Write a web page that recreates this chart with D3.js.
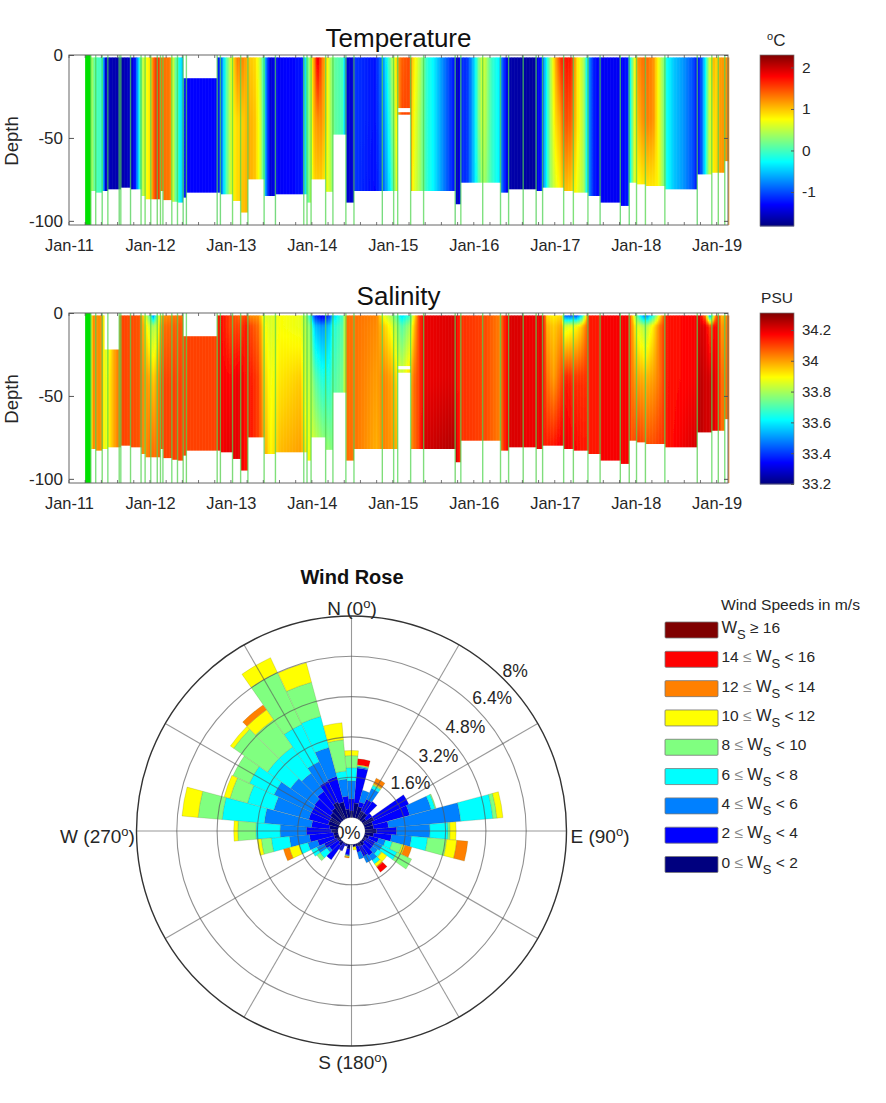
<!DOCTYPE html>
<html>
<head>
<meta charset="utf-8">
<script src="https://cdn.jsdelivr.net/npm/d3@7/dist/d3.min.js"></script>
<style>
html,body{margin:0;padding:0;background:#fff;}
svg{display:block;font-family:"Liberation Sans",Arial,sans-serif;}
</style>
</head>
<body>
<svg id="chart" width="886" height="1103"></svg>
<script>
// ---------- DATA ----------
const yearTicks = [2011,2012,2013,2014,2015,2016,2017,2018,2019];
const depthTicks = [0,-50,-100];
const tempTicks = [-1,0,1,2];
const salTicks = [33.2,33.4,33.6,33.8,34,34.2];
const tempLevels = [0,-40,-85];
const salLevels = [0,-8,-40,-85];

// station segments: [start year, bottom depth]
const stationRows = [[2011.20,-102],[2011.27,-82],[2011.33,-83],[2011.41,-82],[2011.48,-81],[2011.62,-81],[2011.64,-80],[2011.76,-81],[2011.89,-85],[2011.94,-87],[2012.01,-87],[2012.09,-87],[2012.13,-82],[2012.16,-87.5],[2012.27,-88.5],[2012.34,-89],[2012.41,-86],[2012.45,-83],[2012.83,-83],[2012.87,-84],[2013.02,-88],[2013.12,-95],[2013.21,-75],[2013.41,-85],[2013.55,-84],[2013.90,-84],[2013.94,-89],[2013.99,-75],[2014.17,-82.5],[2014.26,-48],[2014.42,-89],[2014.52,-82],[2014.87,-82],[2015.01,-82],[2015.06,-36],[2015.22,-82],[2015.38,-82],[2015.77,-90],[2015.84,-77],[2016.11,-77],[2016.33,-83],[2016.43,-81],[2016.61,-81],[2016.77,-82],[2016.85,-80],[2017.11,-82],[2017.23,-83],[2017.41,-85],[2017.56,-89],[2017.81,-91],[2017.92,-77],[2018.01,-78],[2018.12,-79],[2018.36,-81],[2018.76,-72],[2018.94,-71],[2019.02,-71],[2019.10,-64]];
const stationEnd = 2019.14;

// empty depth windows: [start, end, upper depth, lower depth]
const tempGaps = [[2012.41,2012.83,0,-14],[2015.06,2015.22,-32,-34.5]];
const salGaps = [[2012.41,2012.83,0,-14],[2011.44,2011.62,0,-22],[2015.06,2015.22,-32,-34]];

// temperature profiles: [year, surface, -40 m, -85 m]
const tempProfiles = [[2011.20,.24,.24,.24],[2011.27,.5,.5,.5],[2011.33,0,0,0],[2011.39,0,0,0],[2011.42,-.3,-.3,-.3],[2011.45,-1.5,-1.5,-1.5],[2011.51,-1.6,-1.6,-1.6],[2011.64,-1.65,-1.65,-1.65],[2011.78,-1.5,-1.5,-1.5],[2011.82,-1.2,-1.2,-1.2],[2011.85,-.6,-.6,-.6],[2011.88,0,0,0],[2011.92,.6,.6,.6],[2012.01,.9,.9,.9],[2012.05,1.4,1.4,1.4],[2012.09,1.7,1.7,1.7],[2012.13,1.35,1.35,1.35],[2012.25,1.3,1.3,1.3],[2012.27,.8,.8,.8],[2012.31,.2,.2,.2],[2012.36,-.2,-.2,-.2],[2012.40,-.5,-.5,-.5],[2012.43,-1.3,-1.3,-1.3],[2012.83,-1.3,-1.3,-1.3],[2012.87,-1.1,-1.1,-1.1],[2012.90,-.6,-.6,-.6],[2012.94,0,0,0],[2012.99,.5,.5,.5],[2013.03,.9,.8,.8],[2013.08,1.3,.9,.9],[2013.15,1.25,.95,1],[2013.22,1,1.1,1.1],[2013.30,.9,1,1],[2013.36,.5,.6,.6],[2013.40,0,.1,.1],[2013.44,-.9,-.9,-.9],[2013.49,-1.5,-1.5,-1.5],[2013.55,-1.35,-1.35,-1.35],[2013.88,-1.25,-1.25,-1.25],[2013.91,-.5,-.5,-.5],[2013.95,.1,.1,.1],[2013.99,.7,.6,.5],[2014.03,1.2,1.1,.9],[2014.07,2,1.2,.9],[2014.12,1.4,1.2,.9],[2014.18,.9,.9,.7],[2014.23,.4,.4,.5],[2014.29,.1,.1,.1],[2014.39,0,0,0],[2014.43,-1.5,-1.5,-1.5],[2014.51,-1.5,-1.5,-1.5],[2014.54,-1.1,-1.1,-1.1],[2014.78,-1.25,-1.25,-1.3],[2014.87,-.8,-.9,-1],[2014.93,-.2,-.4,-.6],[2014.98,.3,.1,-.2],[2015.03,.8,.6,.3],[2015.07,1.2,1.1,1.1],[2015.11,1.4,1.5,1.5],[2015.21,1.5,1.5,1.5],[2015.25,.9,.8,.7],[2015.33,.5,.4,.4],[2015.42,-.1,-.1,-.1],[2015.50,-.3,-.3,-.3],[2015.63,-.8,-.8,-.8],[2015.73,-1.15,-1.15,-1.15],[2015.77,-1.3,-1.3,-1.3],[2015.80,-1.65,-1.65,-1.65],[2015.84,-1.15,-1.15,-1.15],[2015.92,-1.1,-1.1,-1.1],[2016.00,-.5,-.5,-.5],[2016.06,.2,.2,0],[2016.11,.65,.6,.4],[2016.15,.45,.4,.3],[2016.22,-.05,-.05,-.05],[2016.31,-.3,-.3,-.3],[2016.35,-.9,-.9,-.9],[2016.41,-1.4,-1.4,-1.4],[2016.45,-1.65,-1.65,-1.65],[2016.76,-1.7,-1.7,-1.7],[2016.79,-1.4,-1.4,-1.4],[2016.84,-1.2,-1.2,-1.2],[2016.88,-.5,-.5,-.5],[2016.94,.3,.3,.3],[2017.01,1.1,.9,.6],[2017.07,1.6,1.1,.8],[2017.11,1.75,1.5,1],[2017.21,1.7,1.4,.9],[2017.27,.9,.9,.7],[2017.36,.4,.4,.4],[2017.42,-.7,-.7,-.7],[2017.48,-1.2,-1.2,-1.2],[2017.56,-1.35,-1.35,-1.35],[2017.81,-1.35,-1.35,-1.35],[2017.91,-1.2,-1.2,-1.2],[2017.93,-.3,-.3,-.3],[2017.98,.6,.6,.6],[2018.02,1.2,1,.7],[2018.12,1.4,1.3,.8],[2018.22,1.2,1.2,.8],[2018.27,.8,.8,.8],[2018.34,.3,.3,.3],[2018.38,-.2,-.2,-.2],[2018.47,-.5,-.5,-.5],[2018.59,-.7,-.7,-.7],[2018.71,-1,-1,-1],[2018.76,-1.3,-1.3,-1.3],[2018.81,-1,-1,-1],[2018.86,-.3,-.3,-.3],[2018.90,.4,.4,.4],[2018.96,1.1,.9,.8],[2019.00,.9,.9,.9],[2019.04,1.15,1.15,1.15],[2019.15,1.2,1.2,1.2]];

// salinity profiles: [year, surface, -8 m, -40 m, -85 m]
const salProfiles = [[2011.20,33.76,33.76,33.76,33.76],[2011.27,33.76,33.76,33.76,33.76],[2011.29,34.02,34.02,34.02,34.02],[2011.41,34.02,34.02,34.02,34.02],[2011.44,33.85,33.85,33.85,33.85],[2011.49,33.85,33.85,33.9,33.9],[2011.55,33.98,33.98,33.98,33.98],[2011.62,34.05,34.05,34.05,34.05],[2011.66,34.1,34.1,34.1,34.1],[2011.88,34.08,34.08,34.08,34.08],[2011.93,33.9,33.95,34,34],[2011.99,33.7,33.85,34,34.05],[2012.04,33.4,33.8,33.95,34.05],[2012.09,33.75,33.85,34,34.05],[2012.15,34,34.05,34.1,34.1],[2012.38,34.05,34.08,34.1,34.1],[2012.45,34.1,34.1,34.1,34.1],[2012.83,34.1,34.1,34.1,34.1],[2012.86,34.18,34.18,34.18,34.18],[2012.99,34.1,34.1,34.17,34.2],[2013.12,34.05,34.1,34.2,34.2],[2013.18,34.1,34.15,34.15,34.15],[2013.24,34,34.1,34.15,34.15],[2013.34,34,34.05,34.1,34.1],[2013.41,33.85,33.9,33.95,34],[2013.49,33.85,33.85,33.88,33.9],[2013.61,33.89,33.89,33.92,33.97],[2013.86,33.87,33.87,33.95,34],[2013.92,33.8,33.82,33.85,33.92],[2013.98,33.6,33.75,33.82,33.87],[2014.04,33.35,33.55,33.72,33.85],[2014.13,33.25,33.5,33.65,33.8],[2014.21,33.35,33.55,33.65,33.78],[2014.27,33.55,33.65,33.7,33.75],[2014.39,33.7,33.72,33.75,33.75],[2014.43,34.05,34.05,34.05,34.05],[2014.52,34.05,34.05,34.05,34.05],[2014.80,34.03,34.02,34,33.98],[2014.89,33.85,33.95,34.03,34.03],[2015.01,33.75,33.85,33.98,34],[2015.11,33.55,33.7,33.85,33.95],[2015.21,33.65,33.8,33.95,34],[2015.26,33.88,33.95,34.05,34.05],[2015.32,34.1,34.1,34.1,34.1],[2015.38,34.19,34.19,34.19,34.22],[2015.77,34.21,34.21,34.21,34.26],[2015.83,34.12,34.12,34.12,34.12],[2016.12,34.1,34.1,34.1,34.1],[2016.33,34.03,34.03,34.03,34.03],[2016.37,34.12,34.12,34.12,34.12],[2016.45,34.21,34.21,34.21,34.21],[2016.59,34.21,34.21,34.21,34.21],[2016.63,34.19,34.19,34.19,34.19],[2016.79,34.19,34.19,34.19,34.19],[2016.84,34.2,34.2,34.2,34.2],[2016.87,34.15,34.15,34.15,34.15],[2016.90,33.92,33.98,34.05,34.15],[2016.99,33.9,33.95,34,34.17],[2017.09,33.92,34,34.1,34.2],[2017.12,33.35,33.85,34.15,34.2],[2017.27,33.3,33.9,34.12,34.17],[2017.33,33.5,33.95,34.12,34.15],[2017.39,33.9,34.05,34.12,34.15],[2017.42,34.15,34.15,34.15,34.15],[2017.56,34.15,34.15,34.15,34.15],[2017.57,34.18,34.18,34.18,34.18],[2017.91,34.18,34.18,34.18,34.18],[2017.95,34,34.02,34.04,34.08],[2018.01,33.7,33.88,34,34.13],[2018.12,33.35,33.8,33.98,34.1],[2018.22,33.6,33.92,34,34.1],[2018.30,33.9,34.05,34.05,34.12],[2018.36,34.12,34.12,34.12,34.12],[2018.38,34.15,34.15,34.15,34.15],[2018.75,34.18,34.18,34.18,34.22],[2018.79,34.2,34.22,34.25,34.25],[2018.86,34,34.2,34.22,34.22],[2018.92,33.35,34.1,34.22,34.22],[2018.98,33.95,34.18,34.2,34.2],[2019.02,34.15,34.15,34.15,34.15],[2019.06,33.95,34,34.05,34.05],[2019.15,34.05,34.05,34.05,34.05]];

// wind rose: percent of time per speed class, direction 0,10,...,350 degrees
const directions = d3.range(0,360,10);
const ws0to2 = [.26,.58,.46,.34,.34,.18,.46,.34,.34,.46,.34,.18,.10,.10,.18,.14,.10,.10,.02,.18,.06,.02,.18,.10,.10,.18,.18,.26,.34,.42,.42,.50,.58,.74,.66,.34];
const ws2to4 = [.48,1.4,.2,.52,.56,.28,1.52,1.52,.6,.8,.72,.4,.4,.4,.48,.44,.24,0,0,.24,.04,.32,.68,.44,.56,.68,.96,1,.72,.8,.8,.76,.8,.92,1.04,.52];
const ws4to6 = [.72,.04,.48,.48,0,0,0,.88,2.88,1.32,.8,.28,.32,.24,.24,.28,.28,0,0,.04,0,0,0,.12,.32,.4,.8,1.04,1.88,1.44,1.64,1.16,.88,.84,1.2,.68];
const ws6to8 = [.52,.04,0,.12,0,0,0,.16,1.28,.72,.64,.28,.64,.16,.16,0,0,0,0,0,0,0,0,.32,.24,.36,.72,.96,1.68,1.08,1.08,1.12,1.28,1.64,1.28,.32];
const ws8to10 = [.48,0,0,.04,0,0,0,.04,.16,.08,.76,.4,.64,.04,0,0,0,0,0,0,0,0,0,.16,0,0,.4,.72,.96,.72,.72,1.64,1.32,2.28,1.4,1.24];
const ws10to12 = [.2,.04,0,.04,0,0,0,0,.24,.24,.4,.12,0,.24,.12,0,0,.12,0,.04,0,0,0,0,0,.4,.16,.16,.64,.24,0,.16,.48,.64,.8,.68];
const ws12to14 = [0,0,0,.24,0,0,0,0,0,0,.44,.28,0,0,.04,0,0,0,0,.04,0,0,0,0,0,.24,0,0,0,0,0,0,.24,0,0,0];
const ws14to16 = [0,.24,0,0,0,0,0,0,0,0,0,0,0,0,.24,0,0,0,0,0,0,0,0,0,0,0,0,0,0,0,0,0,0,0,0,0];
const ws16up = directions.map(() => 0);
const speedSeries = [ws0to2,ws2to4,ws4to6,ws6to8,ws8to10,ws10to12,ws12to14,ws14to16,ws16up];
const speedColors = ["#00007f","#0000ff","#0080ff","#00ffff","#80ff80","#ffff00","#ff8000","#ff0000","#7f0000"];
// legend rows: [lower bound, upper part] around "W_S"
const speedLabels = [["0","< 2"],["2","< 4"],["4","< 6"],["6","< 8"],["8","< 10"],["10","< 12"],["12","< 14"],["14","< 16"],["","≥ 16"]];
const radialTicks = [1.6,3.2,4.8,6.4,8];
const compass = [["N (0","o",")",0],["E (90","o",")",90],["S (180","o",")",180],["W (270","o",")",270]];

// ---------- HELPERS ----------
const svg = d3.select("#chart");
const defs = svg.append("defs");
defs.append("filter").attr("id","soft").attr("x","-2%").attr("y","-2%").attr("width","104%").attr("height","104%")
  .append("feGaussianBlur").attr("stdDeviation",0.45);
const clamp01 = v => Math.max(0,Math.min(1,v));
const jet = t => {
  const r = clamp01(1.5-Math.abs(4*t-3)), g = clamp01(1.5-Math.abs(4*t-2)), b = clamp01(1.5-Math.abs(4*t-1));
  return d3.rgb(255*r,255*g,255*b).formatHex();
};
const inkAxis = "#666", inkText = "#262626";
const stationSegs = stationRows.map((r,i)=>({start:r[0],end:i+1<stationRows.length?stationRows[i+1][0]:stationEnd,bottom:r[1]}));
const x = d3.scaleLinear().domain([2011,2019.14]).range([69,728]);

function profileAt(rows,t){
  const i = Math.max(1,Math.min(rows.length-1,d3.bisector(r=>r[0]).left(rows,t)));
  const a = rows[i-1], b = rows[i];
  const f = clamp01((t-a[0])/(b[0]-a[0]));
  return a.slice(1).map((v,k)=>v+(b[k+1]-v)*f);
}
function valueAtDepth(levels,vals,d){
  if(d>=levels[0]) return vals[0];
  for(let k=1;k<levels.length;k++){
    if(d>=levels[k]){ const f=(levels[k-1]-d)/(levels[k-1]-levels[k]); return vals[k-1]+(vals[k]-vals[k-1])*f; }
  }
  return vals[vals.length-1];
}

function drawPanel(cfg){
  const y = d3.scaleLinear().domain([0,-102.5]).range([cfg.top,cfg.top+170]);
  const color = d3.scaleSequential(jet).domain(cfg.domain);
  const gid = cfg.id;
  const dataTop = -1.5, dataBottom = -102.5;
  const stopDepths = d3.range(dataTop,-14,-1.5).concat(d3.range(-14,dataBottom,-6));
  const g = svg.append("g").attr("filter","url(#soft)");
  const first = stationSegs[0].start;
  const strips = d3.range(x(first),x(stationEnd),1.5);
  strips.forEach((px,i)=>{
    const t = x.invert(px+0.75);
    const vals = profileAt(cfg.rows,t);
    const grad = defs.append("linearGradient").attr("id",gid+i).attr("gradientUnits","userSpaceOnUse")
      .attr("x1",0).attr("x2",0).attr("y1",y(dataTop)).attr("y2",y(dataBottom));
    stopDepths.forEach(d=>{
      grad.append("stop").attr("offset",(d-dataTop)/(dataBottom-dataTop))
        .attr("stop-color",color(valueAtDepth(cfg.levels,vals,d)));
    });
  });
  g.selectAll("rect.strip").data(strips).join("rect").attr("class","strip")
    .attr("x",d=>d).attr("width",2.1)
    .attr("y",y(dataTop)).attr("height",y(dataBottom)-y(dataTop))
    .attr("fill",(d,i)=>`url(#${gid}${i})`);
  // below the bottom of each station
  g.selectAll("rect.floor").data(stationSegs).join("rect").attr("class","floor")
    .attr("x",d=>x(d.start)).attr("width",d=>x(d.end)-x(d.start)+0.3)
    .attr("y",d=>y(d.bottom)).attr("height",d=>Math.max(0,y(dataBottom)-y(d.bottom))+1).attr("fill","#fff");
  // missing windows
  g.selectAll("rect.gap").data(cfg.gaps).join("rect").attr("class","gap")
    .attr("x",d=>x(d[0])).attr("width",d=>x(d[1])-x(d[0]))
    .attr("y",d=>y(d[2])).attr("height",d=>y(d[3])-y(d[2])).attr("fill","#fff");
  // first station band
  g.append("rect").attr("x",x(stationSegs[0].start)).attr("width",x(stationSegs[0].end)-x(stationSegs[0].start))
    .attr("y",y(0)).attr("height",y(-102.5)-y(0)).attr("fill","#00e000");
  // station lines
  g.selectAll("line.st").data(stationSegs.slice(1)).join("line").attr("class","st")
    .attr("x1",d=>x(d.start)).attr("x2",d=>x(d.start))
    .attr("y1",y(0)).attr("y2",y(-102.5))
    .attr("stroke","#4fd64f").attr("stroke-width",1.4).attr("stroke-opacity",.72);
  // axes
  const axG = svg.append("g");
  axG.append("rect").attr("x",69).attr("y",cfg.top).attr("width",659).attr("height",170)
    .attr("fill","none").attr("stroke",inkAxis).attr("stroke-width",1);
  const minor = d3.range(2011,2019.14,0.2);
  [[cfg.top+170,-3],[cfg.top,3]].forEach(([yy,s])=>{
    axG.append("g").selectAll("line").data(minor).join("line")
      .attr("x1",x).attr("x2",x).attr("y1",yy).attr("y2",yy+s)
      .attr("stroke","#555").attr("stroke-width",.8);
  });
  const xa = d3.axisBottom(x).tickValues(yearTicks).tickSize(0).tickPadding(14)
    .tickFormat(v=>"Jan-"+String(v).slice(2));
  const xg = axG.append("g").attr("transform",`translate(0,${cfg.top+170})`).call(xa);
  xg.select(".domain").remove();
  xg.selectAll("text").attr("font-size",16.4).attr("fill",inkText).attr("font-family","Liberation Sans");
  const ya = d3.axisLeft(y).tickValues(depthTicks).tickSize(-5).tickPadding(6).tickFormat(d3.format("d"));
  const yg = axG.append("g").attr("transform","translate(69,0)").call(ya);
  yg.select(".domain").remove();
  yg.selectAll("line").attr("stroke","#555");
  yg.selectAll("text").attr("font-size",17).attr("fill",inkText).attr("font-family","Liberation Sans").text(function(){return d3.select(this).text().replace("−","-");});
  const yr = d3.axisRight(y).tickValues(depthTicks).tickSize(-4).tickFormat("");
  const yrg = axG.append("g").attr("transform","translate(728,0)").call(yr);
  yrg.select(".domain").remove(); yrg.selectAll("line").attr("stroke","#555");
  axG.append("text").attr("transform",`translate(18,${cfg.top+86}) rotate(-90)`).attr("text-anchor","middle")
    .attr("font-size",18.5).attr("fill",inkText).text("Depth");
  axG.append("text").attr("x",398.5).attr("y",cfg.titleY).attr("text-anchor","middle")
    .attr("font-size",26).attr("fill","#111").text(cfg.title);
  // colour bar
  const cy = d3.scaleLinear().domain(cfg.domain).range([cfg.top+171,cfg.top]);
  const cg = svg.append("g");
  cg.selectAll("rect.cb").data(d3.range(cfg.top,cfg.top+171,1)).join("rect").attr("class","cb")
    .attr("x",760).attr("width",34).attr("y",d=>d).attr("height",1.4)
    .attr("fill",d=>color(cy.invert(d+.5)));
  cg.append("rect").attr("x",760).attr("y",cfg.top).attr("width",34).attr("height",171)
    .attr("fill","none").attr("stroke","#777").attr("stroke-width",.7);
  const ca = d3.axisRight(cy).tickValues(cfg.ticks).tickSize(-3).tickPadding(8).tickFormat(cfg.fmt);
  const cag = cg.append("g").attr("transform","translate(794,0)").call(ca);
  cag.select(".domain").remove();
  cag.selectAll("line").attr("stroke","#555");
  cag.selectAll("text").attr("font-size",cfg.cbFont).attr("fill",inkText).attr("font-family","Liberation Sans").text(function(){return d3.select(this).text().replace("−","-");});
}

drawPanel({id:"t",top:55,title:"Temperature",titleY:47,rows:tempProfiles,levels:tempLevels,gaps:tempGaps,domain:[-1.82,2.3],ticks:tempTicks,fmt:d3.format("d"),cbFont:15.5});
drawPanel({id:"s",top:313,title:"Salinity",titleY:305,rows:salProfiles,levels:salLevels,gaps:salGaps,domain:[33.2,34.31],ticks:salTicks,fmt:d=>String(d),cbFont:15});

// colour bar units
const unitT = svg.append("text").attr("x",767).attr("y",46).attr("font-size",17).attr("fill",inkText);
unitT.append("tspan").attr("font-size",11).attr("dy",-6).text("o");
unitT.append("tspan").attr("dy",6).text("C");
svg.append("text").attr("x",777).attr("y",303).attr("text-anchor","middle").attr("font-size",15.5).attr("fill",inkText).text("PSU");

// ---------- WIND ROSE ----------
const cx = 351.5, cy0 = 831;
const r = d3.scaleLinear().domain([0,8]).range([13.5,215]);
const rose = svg.append("g").attr("transform",`translate(${cx},${cy0})`);
rose.append("text").attr("x",-4).attr("y",8).attr("text-anchor","middle").attr("font-size",18).attr("fill",inkText).text("0%");

const keys = d3.range(speedSeries.length);
const records = directions.map((deg,i)=>{const o={deg};keys.forEach(k=>o[k]=speedSeries[k][i]);return o;});
const stacked = d3.stack().keys(keys)(records);
const halfBin = 4.95*Math.PI/180;
const arc = d3.arc()
  .innerRadius(d=>r(d[0])).outerRadius(d=>r(d[1]))
  .startAngle(d=>d.data.deg*Math.PI/180-halfBin).endAngle(d=>d.data.deg*Math.PI/180+halfBin);
const barsG = rose.append("g").attr("filter","url(#soft)");
stacked.forEach((layer,k)=>{
  barsG.append("g").selectAll("path").data(layer.filter(d=>d[1]>d[0])).join("path")
    .attr("d",arc).attr("fill",speedColors[k])
    .attr("stroke","#5a5a20").attr("stroke-opacity",.3).attr("stroke-width",.6);
});

// grid on top
const gridG = rose.append("g");
gridG.selectAll("circle.ring").data(radialTicks.slice(0,-1)).join("circle").attr("class","ring")
  .attr("r",r).attr("fill","none").attr("stroke","#555").attr("stroke-opacity",.65).attr("stroke-width",1.1);
gridG.selectAll("line.spoke").data(d3.range(0,360,30)).join("line").attr("class","spoke")
  .attr("x1",d=>r(0)*Math.sin(d*Math.PI/180)).attr("y1",d=>-r(0)*Math.cos(d*Math.PI/180))
  .attr("x2",d=>r(8)*Math.sin(d*Math.PI/180)).attr("y2",d=>-r(8)*Math.cos(d*Math.PI/180))
  .attr("stroke","#555").attr("stroke-opacity",.6).attr("stroke-width",1.1);
gridG.append("circle").attr("r",r(8)).attr("fill","none").attr("stroke","#333").attr("stroke-width",1.4);

// radial labels
const labelBearing = [51,49,47.5,46.6,45.6];
const labelOffset = [22,21,20,19,14];
rose.selectAll("text.rad").data(radialTicks).join("text").attr("class","rad")
  .attr("x",(d,i)=>(r(d)+labelOffset[i])*Math.sin(labelBearing[i]*Math.PI/180))
  .attr("y",(d,i)=>-(r(d)+labelOffset[i])*Math.cos(labelBearing[i]*Math.PI/180)+6)
  .attr("text-anchor","middle").attr("font-size",17.5).attr("fill",inkText).text(d=>d+"%");

// compass labels
const compassPos = {0:[0.5,-216],90:[248.5,12],180:[1.5,238],270:[-254,12]};
compass.forEach(c=>{
  const p = compassPos[c[3]];
  const t = rose.append("text").attr("x",p[0]).attr("y",p[1]).attr("text-anchor","middle").attr("font-size",19).attr("fill",inkText);
  t.append("tspan").text(c[0]);
  t.append("tspan").attr("font-size",13).attr("dy",-7).text(c[1]);
  t.append("tspan").attr("dy",7).text(c[2]);
});
svg.append("text").attr("x",352).attr("y",584).attr("text-anchor","middle").attr("font-size",20).attr("font-weight","bold").attr("fill","#111").text("Wind Rose");

// ---------- LEGEND ----------
svg.append("text").attr("x",721).attr("y",610).attr("font-size",14.5).attr("fill",inkText).attr("textLength",139).attr("lengthAdjust","spacingAndGlyphs").text("Wind Speeds in m/s");
const legendY = d3.scalePoint().domain(d3.range(9)).range([864.5,630]);
const lg = svg.append("g");
lg.selectAll("rect").data(speedColors).join("rect")
  .attr("x",665).attr("width",53).attr("y",(d,i)=>legendY(i)-8).attr("height",16).attr("rx",1)
  .attr("fill",d=>d).attr("stroke","#777").attr("stroke-width",.8);
speedLabels.forEach((lab,i)=>{
  const t = lg.append("text").attr("x",721.5).attr("y",legendY(i)+3).attr("font-size",15.5).attr("fill",inkText).attr("xml:space","preserve");
  if(lab[0]){
    t.append("tspan").text(lab[0]+" ");
    t.append("tspan").attr("fill","#8a8a8a").text("≤ ");
  }
  t.append("tspan").attr("font-size",16.5).text("W");
  t.append("tspan").attr("font-size",13).attr("dy",6).text("S");
  t.append("tspan").attr("dy",-6).text(" "+lab[1]);
});
</script>
</body>
</html>
